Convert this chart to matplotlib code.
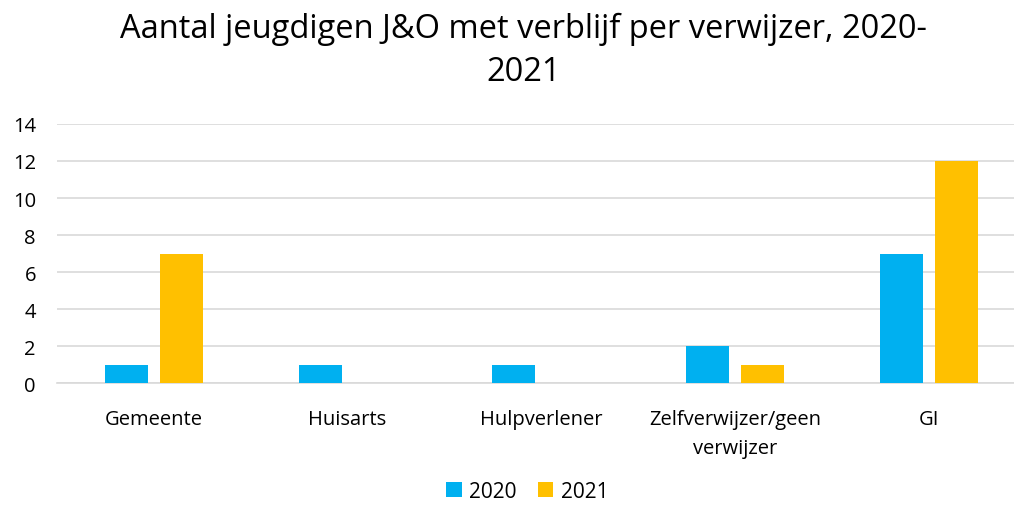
import numpy as np
import matplotlib.pyplot as plt

plt.rcParams['font.family'] = ['Open Sans', 'DejaVu Sans']

categories = ['Gemeente', 'Huisarts', 'Hulpverlener', 'Zelfverwijzer/geen\nverwijzer', 'GI']
years = ['2020', '2021']
v2020 = [1, 1, 1, 2, 7]
v2021 = [7, 0, 0, 1, 12]
colors = ['#00B0F0', '#FFC000']

fig = plt.figure(figsize=(10.14, 5.06), dpi=100)
# the plot area runs past the right edge, as in the original
ax = fig.add_axes([0.056, 0.241, 0.956, 0.512])

x = np.arange(len(categories))
w = 0.222
off = 0.142
ax.bar(x - off, v2020, w, color=colors[0], label=years[0], zorder=3)
ax.bar(x + off, v2021, w, color=colors[1], label=years[1], zorder=3)

ax.set_xlim(-0.5, len(categories) - 0.5)
ax.set_ylim(0, 14)
ax.set_yticks(range(0, 15, 2))
ax.yaxis.grid(True, color='#d9d9d9', linewidth=1.2, zorder=0)
ax.set_xticks(x)
ax.set_xticklabels(categories, fontsize=14.5, linespacing=1.6)
ax.tick_params(axis='y', labelsize=14.5, length=0, pad=15)
ax.tick_params(axis='x', length=0, pad=19)
for s in ['top', 'right', 'left']:
    ax.spines[s].set_visible(False)
ax.spines['bottom'].set_color('#d9d9d9')
ax.spines['bottom'].set_linewidth(1.2)

fig.text(0.516, 0.975, 'Aantal jeugdigen J&O met verblijf per verwijzer, 2020-\n2021',
         ha='center', va='top', fontsize=23.5, linespacing=1.42)

fig.legend(loc='lower center', bbox_to_anchor=(0.52, 0.0), ncol=2, frameon=False,
           borderaxespad=0.0, borderpad=0.15,
           fontsize=15, handlelength=0.75, handleheight=0.75, columnspacing=1.0, handletextpad=0.35)

fig.savefig('out.png', dpi=100)
